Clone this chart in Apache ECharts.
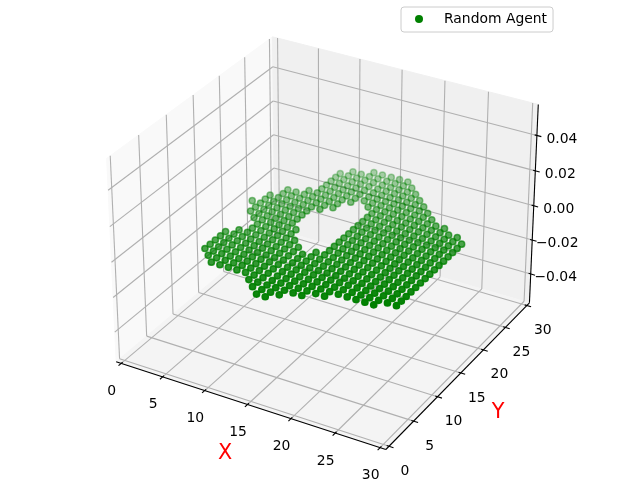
<!DOCTYPE html>
<html><head><meta charset="utf-8">
<style>html,body{margin:0;padding:0;background:#fff;overflow:hidden}#c{width:640px;height:480px}</style>
<script src="https://cdn.jsdelivr.net/npm/echarts@6/dist/echarts.min.js"></script>
</head><body><div id="c"></div>
<script>
const xTicks=[0,5,10,15,20,25,30], yTicks=[0,5,10,15,20,25,30], zTicks=[-0.04,-0.02,0,0.02,0.04];
const zTickLabels=['\u22120.04','\u22120.02','0.00','0.02','0.04'];
// coordinates of the agent's columns and rows
const xValues=[4.97,5.96,6.96,7.95,8.95,9.94,10.93,11.93,12.92,13.94,15,15.99,16.98,17.97,18.95,19.94,20.93,21.91,22.9,23.88,24.87,25.85,26.83,27.82];
const yValues=[1.385,2.38,3.36,4.35,5.34,6.31,7.29,8.27,9.25,10.22,11.2,12.18,13.15,14.12,15.09,16.06,17.03,17.99,18.96,19.93,20.88,21.84,22.8,23.77,24.73,25.69,26.65,27.62,28.59];
// occupied runs: column label, first row label, last row label (all at z = 0)
const runX    =[ 5, 6, 6, 7, 7, 8, 9,10,11,12,12,13,13,14,14,15,15,16,16,17,18,19,20,21,22,23,24,25,26,27,28];
const runFirst=[17, 6,15, 5,14, 4, 4, 4, 4, 4,19, 3,20, 2,22, 1,23, 1,22, 2, 3, 3, 4, 4, 5, 5, 5, 5, 5, 6, 6];
const runLast =[17,10,19,11,21,21,22,27,28,14,28,12,29,11,29,10,29,11,29,29,28,27,26,25,24,23,22,22,21,21,20];
const K={half:2/3,zhalf:0.5,sx:3083,sy:3083,cx:326.5,cy:233.5,dist:12};
function proj(x,y,z){
 const X=(x-15)/15*K.half,Y=(y-15)/15*K.half,Z=z/0.055*K.zhalf;
 const u=.75*X+.4330127*Y,v=-.2165064*X+.375*Y+.75*Z,n=.4330127*X-.75*Y+.5*Z,w=K.dist-n;
 return [K.cx+K.sx*u/w,K.cy-K.sy*v/w,n];
}
const xa=30/48,za=0.11/48;
const x0=-xa,x1=30+xa,y0=-xa,y1=30+xa,z0=-0.055-za,z1=0.055+za;
const panes=[
 {c:'#f9f9f9',p:[[x0,y0,z0],[x0,y1,z0],[x0,y1,z1],[x0,y0,z1]]},
 {c:'#f0f0f0',p:[[x0,y1,z0],[x1,y1,z0],[x1,y1,z1],[x0,y1,z1]]},
 {c:'#f4f4f4',p:[[x0,y0,z0],[x1,y0,z0],[x1,y1,z0],[x0,y1,z0]]}];
const gridL=[],axisL=[],tickL=[],texts=[];
for(const t of xTicks){gridL.push([proj(t,y0,z0),proj(t,y1,z0)]);gridL.push([proj(t,y1,z0),proj(t,y1,z1)]);
 tickL.push([proj(t,y0-0.5,z0),proj(t,y0+0.25,z0)]);
 const p=proj(t,y0,z0);texts.push([p[0]-9.5,p[1]+28,String(t)]);}
for(const t of yTicks){gridL.push([proj(x0,t,z0),proj(x1,t,z0)]);gridL.push([proj(x0,t,z0),proj(x0,t,z1)]);
 tickL.push([proj(x1+0.5,t,z0),proj(x1-0.25,t,z0)]);
 const p=proj(x1,t,z0);texts.push([p[0]+16,p[1]+25,String(t)]);}
zTicks.forEach((t,i)=>{gridL.push([proj(x0,y0,t),proj(x0,y1,t)]);gridL.push([proj(x0,y1,t),proj(x1,y1,t)]);
 tickL.push([proj(x1+0.5,y1,t),proj(x1-0.25,y1,t)]);
 const p=proj(x1,y1,t);texts.push([p[0]+25,p[1]+3.5,zTickLabels[i]]);});
axisL.push([proj(x0,y0,z0),proj(x1,y0,z0)]);axisL.push([proj(x1,y0,z0),proj(x1,y1,z0)]);axisL.push([proj(x1,y1,z0),proj(x1,y1,z1)]);
const pts=[];
runX.forEach((x,i)=>{for(let y=runFirst[i];y<=runLast[i];y++)pts.push(proj(xValues[x-5],yValues[y-1],0));});
const ns=pts.map(p=>p[2]);const nmin=Math.min(...ns),nmax=Math.max(...ns);
const order=pts.map((p,i)=>i).sort((a,b)=>ns[a]-ns[b]);
const scatter=order.map(i=>({value:[pts[i][0],pts[i][1]],itemStyle:{opacity:0.3+0.7*(ns[i]-nmin)/(nmax-nmin)}}));
const seg=(lineW,color)=>(params,api)=>{const a=api.coord([api.value(0),api.value(1)]),b=api.coord([api.value(2),api.value(3)]);
 return {type:'line',shape:{x1:a[0],y1:a[1],x2:b[0],y2:b[1]},style:{stroke:color,lineWidth:lineW}};};
const flat=l=>l.map(s=>[s[0][0],s[0][1],s[1][0],s[1][1]]);
const chart=echarts.init(document.getElementById('c'),null,{renderer:'canvas'});
chart.setOption({animation:false,
 grid:{left:0,right:0,top:0,bottom:0},
 xAxis:{type:'value',min:0,max:640,show:false},
 yAxis:{type:'value',min:0,max:480,inverse:true,show:false},
 legend:{left:401,top:7,data:['Random Agent'],selectedMode:false,orient:'horizontal',itemWidth:8,itemHeight:8,
  padding:[5,6,6,14],backgroundColor:'#fff',borderColor:'#cccccc',borderWidth:1,borderRadius:3,
  itemStyle:{borderWidth:0,opacity:1},
  textStyle:{fontFamily:'DejaVu Sans',fontSize:13.9,color:'#000',padding:[0,0,0,16]}},
 series:[
  {type:'custom',silent:true,z:1,data:panes.map((p,i)=>[i]),encode:{x:0,y:0},renderItem:(params,api)=>{
    const P=panes[api.value(0)];return {type:'polygon',shape:{points:P.p.map(q=>{const r=proj(q[0],q[1],q[2]);return api.coord([r[0],r[1]]);})},style:{fill:P.c,stroke:P.c,lineWidth:1}};}},
  {type:'custom',silent:true,z:2,data:flat(gridL),renderItem:seg(1.1,'#b0b0b0')},
  {type:'custom',silent:true,z:3,data:flat(axisL),renderItem:seg(1.1,'#000')},
  {type:'custom',silent:true,z:3,data:flat(tickL),renderItem:seg(1.1,'#000')},
  {type:'custom',silent:true,z:3,data:texts,renderItem:(params,api)=>{const a=api.coord([api.value(0),api.value(1)]);
    return {type:'text',style:{x:a[0],y:a[1],text:texts[params.dataIndex][2],fill:'#000',font:'13.9px "DejaVu Sans"',textAlign:'center',textVerticalAlign:'middle'}};}},
  {type:'custom',silent:true,z:3,data:[[225,454],[498,413]],renderItem:(params,api)=>{const a=api.coord([api.value(0),api.value(1)]);
    return {type:'text',style:{x:a[0],y:a[1],text:['X','Y'][params.dataIndex],fill:'#f00',font:'20.8px "DejaVu Sans"',textAlign:'center',textVerticalAlign:'middle'}};}},
  {type:'scatter',name:'Random Agent',z:5,symbol:'circle',symbolSize:6.2,itemStyle:{color:'#008000',opacity:1,borderColor:'#008000',borderWidth:1.5},data:scatter}
 ]});
</script></body></html>
